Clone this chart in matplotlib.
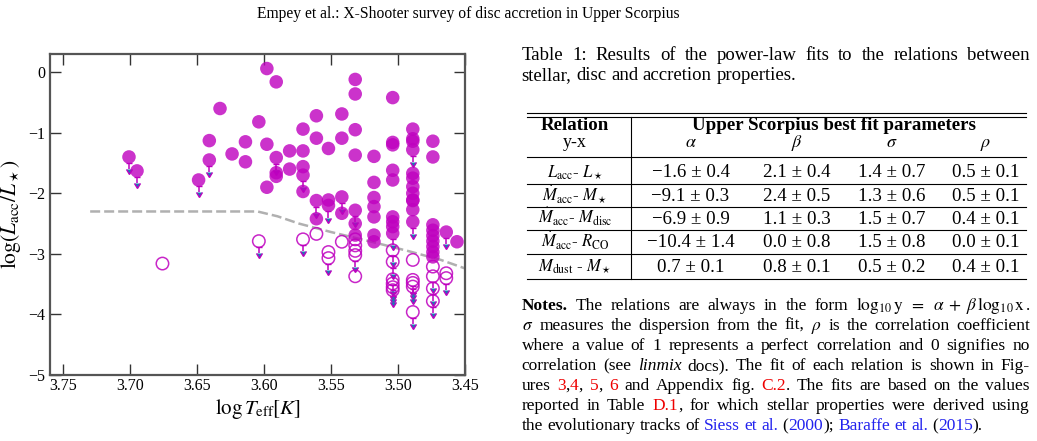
import numpy as np
import matplotlib
matplotlib.use("Agg")
import matplotlib.pyplot as plt
from matplotlib.ticker import FormatStrFormatter

plt.rcParams['font.family'] = ['Liberation Serif', 'DejaVu Serif']
plt.rcParams['mathtext.fontset'] = 'stix'

# ---------------- data ----------------
filled_logteff = [3.701, 3.695, 3.649, 3.641, 3.641, 3.633, 3.624, 3.614, 3.614, 3.604,
                  3.598, 3.598, 3.598, 3.591, 3.591, 3.591, 3.591, 3.581, 3.581,
                  3.571, 3.571, 3.571, 3.571, 3.571, 3.561, 3.561, 3.561, 3.561,
                  3.552, 3.552, 3.552, 3.542, 3.542, 3.542, 3.542,
                  3.532, 3.532, 3.532, 3.532, 3.532, 3.532, 3.532,
                  3.518, 3.518, 3.518, 3.518, 3.518, 3.518, 3.518,
                  3.504, 3.504, 3.504, 3.504, 3.504, 3.504, 3.504, 3.504, 3.504,
                  3.489, 3.489, 3.489, 3.489, 3.489, 3.489, 3.489, 3.489, 3.489, 3.489, 3.489, 3.489,
                  3.474, 3.474, 3.474, 3.474, 3.474, 3.474, 3.474, 3.474, 3.474,
                  3.464, 3.456]
filled_loglacc = [-1.40, -1.63, -1.78, -1.13, -1.45, -0.60, -1.35, -1.15, -1.48, -0.82,
                  0.06, -1.19, -1.90, -0.16, -1.41, -1.66, -1.72, -1.30, -1.60,
                  -0.94, -1.30, -1.56, -1.70, -1.97, -0.72, -1.09, -2.12, -2.42,
                  -1.26, -2.11, -2.20, -0.69, -1.09, -2.06, -2.33,
                  -0.12, -0.36, -0.95, -1.37, -2.28, -2.50, -2.69,
                  -1.39, -1.82, -2.07, -2.22, -2.39, -2.69, -2.80,
                  -0.42, -1.16, -1.20, -1.62, -1.78, -2.39, -2.47, -2.55, -2.66,
                  -0.94, -1.10, -1.14, -1.28, -1.67, -1.75, -1.89, -2.00, -2.11, -2.27, -2.47, -2.12,
                  -1.14, -1.40, -2.52, -2.61, -2.70, -2.79, -2.88, -2.97, -3.05,
                  -2.64, -2.80]
filled_uplim = [1, 1, 1, 0, 1, 0, 0, 0, 0, 0,
                0, 0, 0, 0, 1, 0, 0, 0, 0,
                0, 0, 0, 1, 0, 0, 0, 1, 0,
                0, 0, 1, 0, 0, 1, 0,
                0, 0, 0, 0, 1, 0, 0,
                0, 0, 0, 0, 0, 0, 0,
                0, 0, 0, 0, 0, 0, 0, 0, 1,
                0, 0, 0, 1, 0, 0, 0, 0, 0, 0, 1, 0,
                0, 0, 0, 0, 0, 0, 0, 0, 0,
                1, 0]

open_logteff = [3.676, 3.604, 3.571, 3.561, 3.552, 3.552, 3.542,
                3.532, 3.532, 3.532, 3.532, 3.532,
                3.504, 3.504, 3.504, 3.504, 3.504, 3.504,
                3.489, 3.489, 3.489, 3.489, 3.489,
                3.474, 3.474, 3.474, 3.474, 3.464, 3.464]
open_loglacc = [-3.16, -2.79, -2.76, -2.67, -2.97, -3.07, -2.80,
                -2.76, -2.86, -2.95, -3.02, -3.37,
                -2.94, -3.13, -3.42, -3.49, -3.55, -3.60,
                -3.10, -3.43, -3.48, -3.54, -3.96,
                -3.21, -3.37, -3.57, -3.78, -3.32, -3.40]
open_uplim = [0, 1, 1, 0, 0, 1, 0,
              0, 0, 0, 1, 0,
              1, 1, 1, 1, 1, 1,
              0, 1, 1, 1, 1,
              0, 1, 1, 1, 0, 1]

limit_logteff = [3.73, 3.605, 3.59, 3.574, 3.55, 3.518, 3.493, 3.468, 3.45]
limit_loglacc = [-2.30, -2.30, -2.38, -2.50, -2.64, -2.81, -2.95, -3.10, -3.24]

xticks = [3.75, 3.70, 3.65, 3.60, 3.55, 3.50, 3.45]
yticks = [0, -1, -2, -3, -4, -5]

table_relations = [r"$L_{\rm acc}$- $L_\star$",
                   r"$\dot{M}_{\rm acc}$- $M_\star$",
                   r"$\dot{M}_{\rm acc}$- $M_{\rm disc}$",
                   r"$\dot{M}_{\rm acc}$- $R_{\rm CO}$",
                   r"$M_{\rm dust}$ - $M_\star$"]
table_alpha = ["\u22121.6 \u00b1 0.4", "\u22129.1 \u00b1 0.3", "\u22126.9 \u00b1 0.9", "\u221210.4 \u00b1 1.4", "0.7 \u00b1 0.1"]
table_beta = ["2.1 \u00b1 0.4", "2.4 \u00b1 0.5", "1.1 \u00b1 0.3", "0.0 \u00b1 0.8", "0.8 \u00b1 0.1"]
table_sigma = ["1.4 \u00b1 0.7", "1.3 \u00b1 0.6", "1.5 \u00b1 0.7", "1.5 \u00b1 0.8", "0.5 \u00b1 0.2"]
table_rho = ["0.5 \u00b1 0.1", "0.5 \u00b1 0.1", "0.4 \u00b1 0.1", "0.0 \u00b1 0.1", "0.4 \u00b1 0.1"]
table_params = [r"$\alpha$", r"$\beta$", r"$\sigma$", r"$\rho$"]

# ---------------- figure ----------------
W, H, DPI = 1037, 441, 100
fig = plt.figure(figsize=(W / DPI, H / DPI), dpi=DPI)
renderer = fig.canvas.get_renderer()


def fx(px):
    return px / W


def fy(py):
    return 1 - py / H


def text_width(s, **kw):
    t = fig.text(0, 0, s, **kw)
    w = t.get_window_extent(renderer).width
    t.remove()
    return w


MCOL = (0.75, 0.0, 0.75)
ax = fig.add_axes([fx(50), fy(375), fx(465) - fx(50), fy(54) - fy(375)])
ax.plot(limit_logteff, limit_loglacc, color='#b0b0b0', lw=1.8, ls=(0, (4, 1.6)), zorder=1)

fx_ = np.array(filled_logteff)
fy_ = np.array(filled_loglacc)
fu = np.array(filled_uplim, dtype=bool)
ox_ = np.array(open_logteff)
oy_ = np.array(open_loglacc)
ou = np.array(open_uplim, dtype=bool)

r = 0.10
L = 0.20
ax.errorbar(fx_[fu], fy_[fu] - r, yerr=L - r, uplims=True, fmt='none', ecolor=MCOL,
            elinewidth=1.1, capsize=2.2, zorder=2)
ax.errorbar(ox_[ou], oy_[ou] - r, yerr=L - r, uplims=True, fmt='none', ecolor=MCOL,
            elinewidth=1.1, capsize=2.2, zorder=2)
ax.scatter(fx_, fy_, s=95, color=MCOL, alpha=0.8, edgecolors='none', zorder=3)
ax.scatter(ox_, oy_, s=80, facecolors='none', edgecolors=MCOL, linewidths=1.1, alpha=0.85, zorder=3)

ax.set_xlim(3.76, 3.45)
ax.set_ylim(-5, 0.3)
ax.set_xticks(xticks)
ax.set_yticks(yticks)
ax.xaxis.set_major_formatter(FormatStrFormatter('%.2f'))
ax.tick_params(direction='in', length=8, width=1, top=True, right=True, labelsize=11.5,
               color='#333333')
ax.tick_params(axis='x', pad=2)
for sp in ax.spines.values():
    sp.set_color('#555555')
    sp.set_linewidth(1.6)
ax.set_xlabel(r"$\log T_{\rm eff}[K]$", fontsize=15, labelpad=2)
ax.set_ylabel(r"$\log(L_{\rm acc}/L_\star)$", fontsize=15.5, labelpad=4)

# ---------------- header ----------------
hdr = "Empey et al.: X-Shooter survey of disc accretion in Upper Scorpius"
hfs = 10 * 423 / text_width(hdr, fontsize=10)
fig.text(fx(468.5), fy(17.5), hdr, fontsize=hfs, ha='center', va='baseline')

# ---------------- justified text helper ----------------
RED = '#ee0000'
BLUE = '#2222ee'


def P(s, **p):
    return [[(w, dict(p))] for w in s.split()]


def space_width(fs):
    return text_width('a a', fontsize=fs) - text_width('aa', fontsize=fs)


def natural(words, fs):
    tot = 0
    for w in words:
        for t, p in w:
            tot += text_width(t, fontsize=fs, **p)
    return tot + space_width(fs) * (len(words) - 1)


def draw_line(words, x0, x1, baseline, fs, justify=True):
    widths = [[text_width(t, fontsize=fs, **p) for t, p in w] for w in words]
    total = sum(sum(ww) for ww in widths)
    if justify and len(words) > 1:
        gap = (x1 - x0 - total) / (len(words) - 1)
    else:
        gap = space_width(fs)
    x = x0
    for w, ww in zip(words, widths):
        for (t, p), wi in zip(w, ww):
            fig.text(fx(x), fy(baseline), t, fontsize=fs, ha='left', va='baseline', **p)
            x += wi
        x += gap


X0, X1 = 521.5, 1030

# notes
R = {'color': RED}
B = {'color': BLUE}
notes = [
    [[("Notes.", {'weight': 'bold'})]] + P("The relations are always in the form")
    + [[(r"$\log_{10}\mathrm{y}\;\;=\;\;\alpha\;+\;\beta\,\log_{10}\mathrm{x}$", {}), (".", {})]],
    [[(r"$\sigma$", {})]] + P("measures the dispersion from the fit,") + [[(r"$\rho$", {})]]
    + P("is the correlation coefficient"),
    P("where a value of 1 represents a perfect correlation and 0 signifies no"),
    P("correlation (see") + [[("linmix", {'style': 'italic'})]]
    + P("docs). The fit of each relation is shown in Fig-"),
    P("ures") + [[("3", R), (",", {}), ("4", R), (",", {})], [("5", R), (",", {})], [("6", R)]]
    + P("and Appendix fig.") + [[("C.2", R), (".", {})]] + P("The fits are based on the values"),
    P("reported in Table") + [[("D.1", R), (",", {})]]
    + P("for which stellar properties were derived using"),
    P("the evolutionary tracks of") + [[("Siess", B)], [("et", B)], [("al.", B)],
                                       [("(", {}), ("2000", B), (");", {})],
                                       [("Baraffe", B)], [("et", B)], [("al.", B)],
                                       [("(", {}), ("2015", B), (").", {})]],
]
nfs = 10 * 462 / natural(notes[-1], 10)
for i, line in enumerate(notes):
    draw_line(line, X0, X1, 310 + 20 * i, nfs, justify=(i < len(notes) - 1))

# caption (slightly larger than the notes)
cap1 = P("Table 1: Results of the power-law fits to the relations between")
cap2 = P("stellar, disc and accretion properties.")
cfs = nfs * 1.08
draw_line(cap1, X0, X1, 59.5, cfs)
draw_line(cap2, X0, X1, 80.5, cfs, justify=False)

# ---------------- table ----------------
tfs = 10 * 285 / text_width("Upper Scorpius best fit parameters", fontsize=10, weight='bold')
TL, TR = 527, 1026
for yy in [112.7, 117.3, 157.3, 184, 207, 230.5, 254, 279]:
    fig.add_artist(plt.Line2D([fx(TL), fx(TR)], [fy(yy), fy(yy)], color='black', lw=0.8,
                              transform=fig.transFigure))
fig.add_artist(plt.Line2D([fx(630.7), fx(630.7)], [fy(117.3), fy(279)], color='black', lw=0.8,
                          transform=fig.transFigure))
cols = [690.5, 796.5, 892, 986]
fig.text(fx(575), fy(130.5), "Relation", fontsize=tfs, weight='bold', ha='center', va='baseline')
fig.text(fx(834), fy(130.5), "Upper Scorpius best fit parameters", fontsize=tfs, weight='bold',
         ha='center', va='baseline')
fig.text(fx(575), fy(147), "y-x", fontsize=tfs * 0.95, ha='center', va='baseline')
for c, p in zip(cols, table_params):
    fig.text(fx(c), fy(147), p, fontsize=tfs * 0.95, ha='center', va='baseline')
row_base = [177.3, 200.7, 224, 247.3, 271.5]
for i, b in enumerate(row_base):
    fig.text(fx(575), fy(b), table_relations[i], fontsize=tfs * 0.88, ha='center', va='baseline')
    for c, vals in zip(cols, [table_alpha, table_beta, table_sigma, table_rho]):
        fig.text(fx(c), fy(b), vals[i], fontsize=tfs, ha='center', va='baseline')

fig.savefig("out.png", dpi=DPI)
